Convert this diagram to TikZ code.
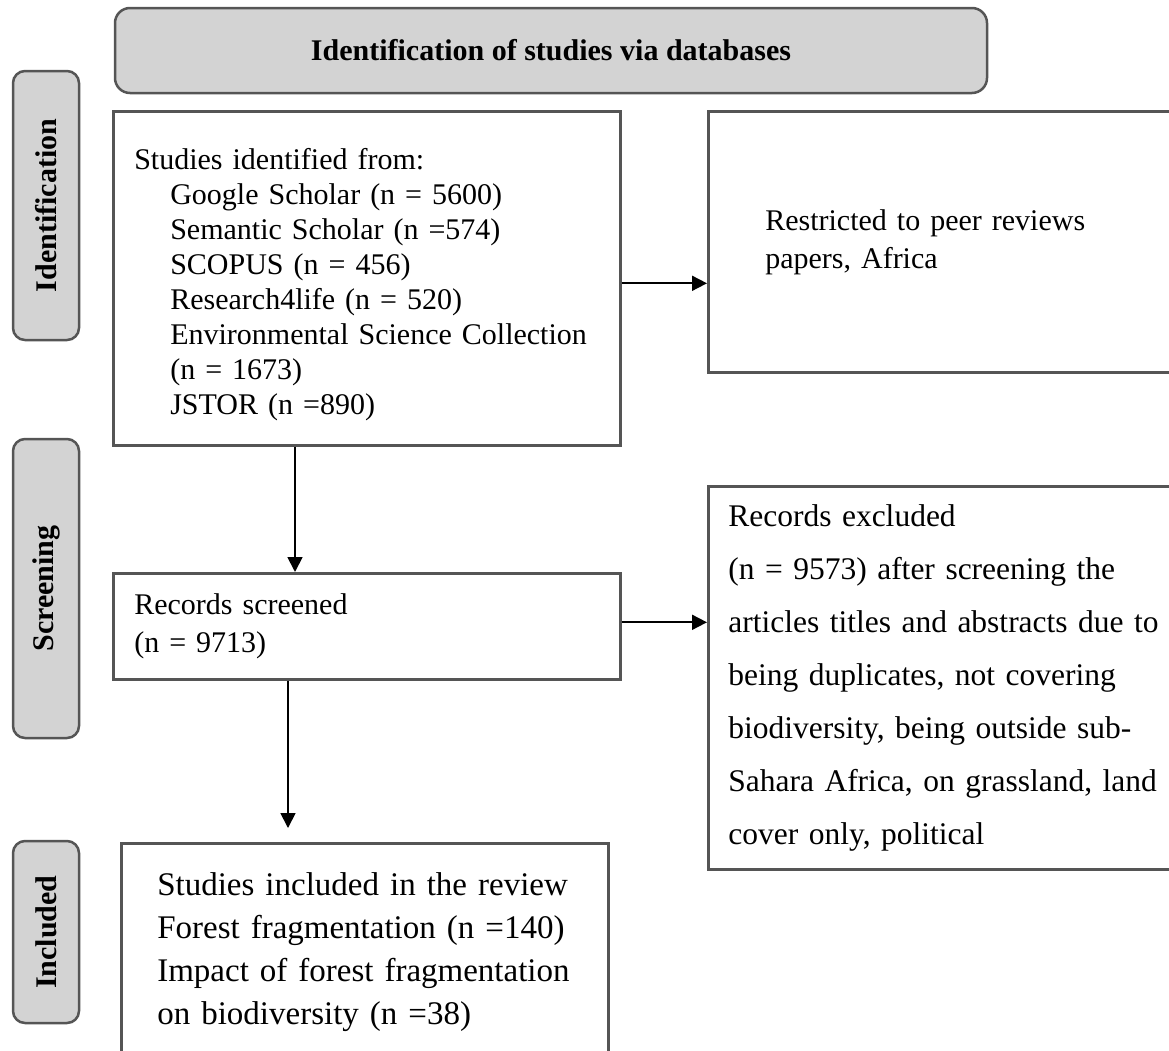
\documentclass[tikz,border=0pt]{standalone}
\usepackage{fontspec}
\setmainfont{Liberation Serif}
\usetikzlibrary{arrows.meta}
\definecolor{phasegray}{RGB}{211,211,211}
\definecolor{edgegray}{RGB}{85,85,85}
\tikzset{
  phase/.style={draw=edgegray, line width=2.5pt, fill=phasegray, rounded corners=12pt, inner sep=0pt, align=center, font=\fontsize{30}{34}\selectfont\bfseries},
  infobox/.style={draw=edgegray, line width=2.6pt, anchor=north west, align=left, inner ysep=0pt},
  arr/.style={line width=1.8pt, -{Triangle[length=15pt,width=15pt]}},
}
\begin{document}
\begin{tikzpicture}[x=1pt, y=-1pt] % one unit per pixel, y downwards
    \clip (0,0) rectangle (1169,1050); % page size
    % Phase labels
    \node[phase, rounded corners=15pt, minimum width=872pt, minimum height=85pt] (header) at (551,50.5) {Identification of studies via databases};
    \node[phase, rotate=90, minimum width=269pt, minimum height=66pt] (identlbl) at (46,205.5) {Identification};
    \node[phase, rotate=90, minimum width=299pt, minimum height=66pt] (screenlbl) at (46,588.5) {Screening};
    \node[phase, rotate=90, minimum width=182pt, minimum height=66pt] (inclbl) at (46,932) {Included};
    % Boxes
    \node[infobox, inner xsep=21pt, text width=465pt, minimum height=334pt, font=\fontsize{30}{35}\selectfont] (found) at (112,110) {\rule{0pt}{33pt}Studies identified from:\\
      \hspace*{36pt}Google Scholar (n = 5600)\\
      \hspace*{36pt}Semantic Scholar (n =574)\\
      \hspace*{36pt}SCOPUS (n = 456)\\
      \hspace*{36pt}Research4life (n = 520)\\
      \hspace*{36pt}Environmental Science Collection\\
      \hspace*{36pt}(n = 1673)\\
      \hspace*{36pt}JSTOR (n =890)};
    \node[infobox, inner xsep=57pt, text width=354pt, minimum height=261pt, font=\fontsize{30}{38}\selectfont] (limits) at (707,110) {Restricted to peer reviews\\papers, Africa};
    \node[infobox, inner xsep=21pt, text width=465pt, minimum height=106pt, font=\fontsize{30}{38}\selectfont] (screened) at (112,572) {Records screened\\(n = 9713)};
    \node[infobox, inner xsep=20pt, text width=480pt, minimum height=383pt, font=\fontsize{31.5}{53}\selectfont] (excluded) at (707,485) {Records excluded\\
      (n = 9573) after screening the\\
      articles titles and abstracts due to\\
      being duplicates, not covering\\
      biodiversity, being outside sub-\\
      Sahara Africa, on grassland, land\\
      cover only, political};
    \node[infobox, inner xsep=36pt, text width=415pt, minimum height=218pt, font=\fontsize{33}{43}\selectfont] (included) at (120,842) {Studies included in the review\\
      Forest fragmentation (n =140)\\
      Impact of forest fragmentation\\
      on biodiversity (n =38)};
    % Arrows
    \draw[arr] ([yshift=-5pt]found.east) -- ([yshift=-5pt]found.east -| limits.west);
    \draw[arr] ([xshift=183pt]found.south west) -- ([xshift=183pt]found.south west |- screened.north);
    \draw[arr] ([yshift=4pt]screened.east) -- ([yshift=4pt]screened.east -| excluded.west);
    \draw[arr] ([xshift=176pt]screened.south west) -- ([xshift=168pt,yshift=14pt]included.north west);
\end{tikzpicture}
\end{document}
